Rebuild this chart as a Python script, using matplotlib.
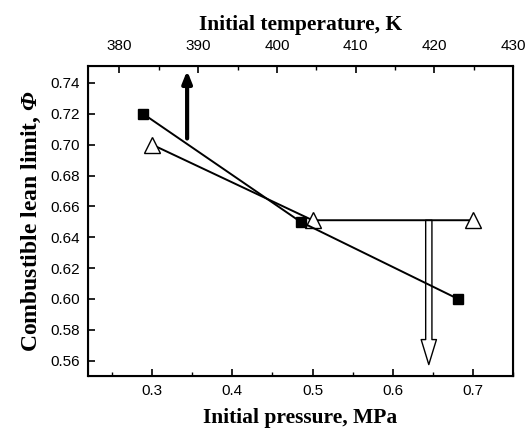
import matplotlib
matplotlib.use("Agg")
import matplotlib.pyplot as plt
from matplotlib.ticker import MultipleLocator

plt.rcParams['mathtext.fontset'] = 'custom'
plt.rcParams['mathtext.rm'] = 'Liberation Serif'
plt.rcParams['mathtext.bf'] = 'Liberation Serif:bold'
plt.rcParams['mathtext.bfit'] = 'Liberation Serif:italic:bold'
plt.rcParams['mathtext.it'] = 'Liberation Serif:italic:bold'

# Data
pressure = [0.3, 0.5, 0.7]            # MPa (bottom axis, open triangles)
phi_pressure = [0.70, 0.651, 0.651]
temperature = [383, 403, 423]         # K (top axis, filled squares)
phi_temperature = [0.72, 0.65, 0.60]

xticks_p = [0.3, 0.4, 0.5, 0.6, 0.7]
xticks_t = [380, 390, 400, 410, 420, 430]
yticks = [0.56, 0.58, 0.60, 0.62, 0.64, 0.66, 0.68, 0.70, 0.72, 0.74]

fig = plt.figure(figsize=(5.32, 4.32), dpi=100)
ax = fig.add_axes([88/532, 1-376/432, (513-88)/532, (376-66)/432])
ax.set_xlim(0.22, 0.75)
ax.set_ylim(0.55, 0.751)

tickfont = dict(family='Liberation Sans', size=11)
labfont = dict(family='Liberation Serif', size=15.5, weight='bold')

ax.plot(pressure, phi_pressure, color='black', lw=1.4, marker='^', ms=11,
        mfc='white', mec='black', mew=1.0, zorder=3)

ax.set_xticks(xticks_p)
ax.set_xticklabels([f"{v:.1f}" for v in xticks_p], **tickfont)
ax.xaxis.set_minor_locator(MultipleLocator(0.05))
ax.set_yticks(yticks)
ax.set_yticklabels([f"{v:.2f}" for v in yticks], **tickfont)
ax.tick_params(axis='both', which='major', direction='in', length=5, width=1.2)
ax.tick_params(axis='x', which='major', pad=6)
ax.tick_params(axis='y', which='major', pad=6)
ax.tick_params(axis='x', which='minor', direction='in', length=3, width=1.0)
ax.tick_params(right=False)
for s in ax.spines.values():
    s.set_linewidth(1.5)

ax.set_xlabel('Initial pressure, MPa', labelpad=7, **labfont)
ax.set_ylabel(r'Combustible lean limit, $\mathbfit{\Phi}$', labelpad=5,
              family='Liberation Serif', size=17, weight='bold')

ax2 = ax.twiny()
ax2.set_xlim(376, 430)
ax2.plot(temperature, phi_temperature, color='black', lw=1.4, marker='s', ms=7.5,
         mfc='black', mec='black', zorder=3)
ax2.set_xticks(xticks_t)
ax2.set_xticklabels([str(v) for v in xticks_t], **tickfont)
ax2.xaxis.set_minor_locator(MultipleLocator(5))
ax2.tick_params(axis='x', which='major', direction='in', length=5, width=1.2, pad=9)
ax2.tick_params(axis='x', which='minor', direction='in', length=3, width=1.0)
ax2.set_xlabel('Initial temperature, K', labelpad=7, **labfont)

# Arrows
ax.annotate('', xy=(0.3436, 0.748), xytext=(0.3436, 0.704),
            arrowprops=dict(arrowstyle='-|>,head_width=0.28,head_length=0.7',
                            color='black', lw=3.0, shrinkA=0, shrinkB=0), zorder=4)
ax.annotate('', xy=(0.645, 0.5574), xytext=(0.645, 0.651),
            arrowprops=dict(arrowstyle='simple,head_width=1.1,head_length=1.8,tail_width=0.45',
                            fc='white', ec='black', lw=1.0, shrinkA=0, shrinkB=0), zorder=2)

fig.savefig('out.png', dpi=100)
